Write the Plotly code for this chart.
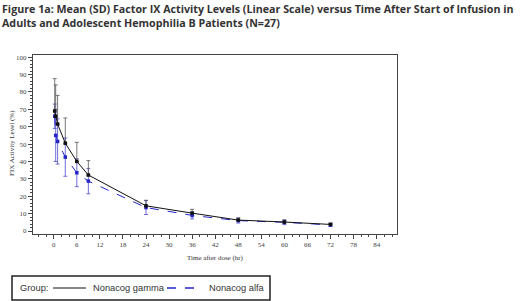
import plotly.graph_objects as go

time_h = [0.25, 0.5, 1, 3, 6, 9, 24, 36, 48, 60, 72]
gamma_mean = [69, 66, 61.5, 50.5, 40, 32.2, 14.5, 10.3, 6.3, 5.2, 3.8]
gamma_sd = [18.6, 18, 16.5, 14.5, 11, 8.3, 3.2, 2.2, 1.3, 1.2, 0.8]
alfa_mean = [66, 55, 51.5, 42.5, 33.5, 28.7, 13.5, 9, 6, 5, 3.5]
alfa_sd = [7, 15, 13, 11, 8, 7.3, 4, 2, 1.4, 1.3, 0.9]

x_ticks = list(range(0, 85, 6))
y_ticks = list(range(0, 101, 10))
legend_title = "Group:"
series_names = ["Nonacog gamma", "Nonacog alfa"]

BLUE = "#2626c8"
BLACK = "#111111"
W, H = 520, 301
L, R, T, B = 33, 123, 55, 67
PW, PH = W - L - R, H - T - B


def px(x):
    return (x - L) / PW


def py(y):
    return (H - B - y) / PH


fig = go.Figure()

fig.add_trace(go.Scatter(
    x=time_h, y=alfa_mean, mode="lines+markers", showlegend=False, name=series_names[1],
    line=dict(color=BLUE, width=1, dash="dash"),
    marker=dict(symbol="square", size=3.5, color=BLUE),
    error_y=dict(type="data", array=alfa_sd, symmetric=True, color="#4a4ad0", thickness=0.8, width=2),
))
fig.add_trace(go.Scatter(
    x=time_h, y=gamma_mean, mode="lines+markers", showlegend=False, name=series_names[0],
    line=dict(color=BLACK, width=1),
    marker=dict(symbol="square", size=3.5, color=BLACK),
    error_y=dict(type="data", array=gamma_sd, arrayminus=[0] * len(gamma_sd),
                 symmetric=False, color="#555555", thickness=0.8, width=2),
))

leg_font = dict(family="Liberation Sans", size=9.3, color="#333333")
ly = 288
shapes = [
    dict(type="rect", xref="paper", yref="paper", x0=px(12), x1=px(270), y0=py(300), y1=py(276),
         line=dict(color="#222222", width=1.5), fillcolor="white", layer="above"),
    dict(type="line", xref="paper", yref="paper", x0=px(53), x1=px(86), y0=py(ly), y1=py(ly),
         line=dict(color=BLACK, width=1)),
    dict(type="line", xref="paper", yref="paper", x0=px(167), x1=px(202), y0=py(ly), y1=py(ly),
         line=dict(color=BLUE, width=1.5, dash="dash")),
]
annotations = [
    dict(text="<b>Figure 1a: Mean (SD) Factor IX Activity Levels (Linear Scale) versus Time After Start of Infusion in<br>Adults and Adolescent Hemophilia B Patients (N=27)</b>",
         xref="paper", yref="paper", x=px(0), y=py(0),
         xanchor="left", yanchor="top", align="left", showarrow=False,
         font=dict(family="Open Sans", size=10.7, color="#333333")),
    dict(text="FIX Activity Level (%)", xref="paper", yref="paper", x=px(12), y=py(143),
         xanchor="center", yanchor="middle", textangle=-90, showarrow=False,
         font=dict(family="Liberation Serif", size=7, color="#333333")),
    dict(text=legend_title, xref="paper", yref="paper", x=px(18), y=py(ly), xanchor="left", yanchor="middle",
         showarrow=False, font=leg_font),
    dict(text=series_names[0], xref="paper", yref="paper", x=px(91), y=py(ly), xanchor="left", yanchor="middle",
         showarrow=False, font=leg_font),
    dict(text=series_names[1], xref="paper", yref="paper", x=px(207), y=py(ly), xanchor="left", yanchor="middle",
         showarrow=False, font=leg_font),
]

tickfont = dict(family="Liberation Serif", size=7, color="#444444")
fig.update_layout(
    width=W, height=H,
    margin=dict(l=L, r=R, t=T, b=B, autoexpand=False),
    paper_bgcolor="white", plot_bgcolor="white",
    showlegend=False,
    shapes=shapes,
    annotations=annotations,
    xaxis=dict(
        range=[-5.4, 89.3], tickvals=x_ticks, ticktext=[str(v) for v in x_ticks],
        showgrid=False, zeroline=False, showline=True, linecolor="#444444", linewidth=1, mirror=True,
        ticks="outside", ticklen=4, tickcolor="#444444", tickfont=tickfont, automargin=False,
        minor=dict(dtick=2, tick0=0, ticks="outside", ticklen=2, tickcolor="#444444"),
        title=dict(text="Time after dose (hr)", font=dict(family="Liberation Serif", size=7, color="#333333"), standoff=6),
    ),
    yaxis=dict(
        range=[-1.7, 101.2], tickvals=y_ticks, ticktext=[str(v) for v in y_ticks],
        showgrid=False, zeroline=False, showline=True, linecolor="#444444", linewidth=1, mirror=True,
        ticks="outside", ticklen=4, tickcolor="#444444", tickfont=tickfont, automargin=False,
        minor=dict(dtick=2, tick0=0, ticks="outside", ticklen=2, tickcolor="#444444"),
    ),
)

fig.write_html("out.html", post_script="document.body.style.margin='0';",
               config={"displayModeBar": False})
